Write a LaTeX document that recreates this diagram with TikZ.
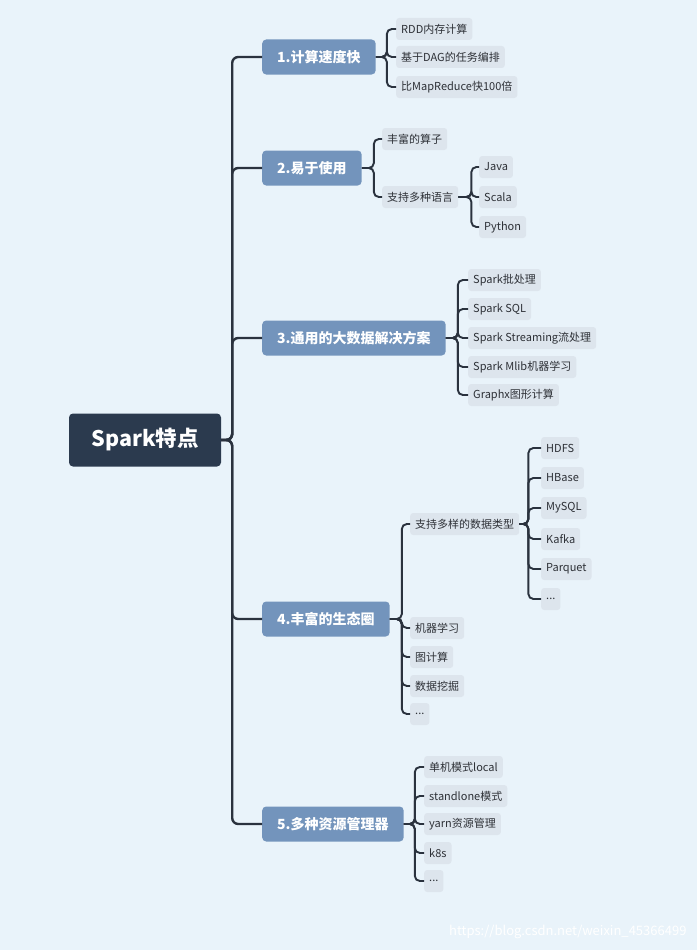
\documentclass[tikz,border=0pt]{standalone}
\usepackage{fontspec}
\setmainfont{Noto Sans CJK SC}
\usepackage{tikz}
\usetikzlibrary{positioning}
\definecolor{mybg}{RGB}{233,243,250}
\definecolor{myroot}{RGB}{43,58,78}
\definecolor{mybranch}{RGB}{115,148,188}
\definecolor{myleaf}{RGB}{221,229,237}
\definecolor{myline}{RGB}{42,50,62}
\definecolor{mytext}{RGB}{45,48,54}
\tikzset{
  rootnode/.style={rectangle, fill=myroot, text=white,
    minimum width=152pt, minimum height=53pt,
    font=\fontsize{21.5}{25}\selectfont\bfseries, rounded corners=4pt},
  branch/.style={rectangle, fill=mybranch, text=white, anchor=west,
    inner xsep=15pt, minimum height=35pt,
    font=\fontsize{14}{17}\selectfont\bfseries, rounded corners=4pt},
  leaf/.style={rectangle, fill=myleaf, text=mytext, anchor=west,
    inner xsep=5pt, minimum height=22pt,
    font=\fontsize{11}{13}\selectfont, rounded corners=3pt},
  link/.style={line width=2.4pt, color=myline, rounded corners=6pt},
  sublink/.style={line width=1.9pt, color=myline, rounded corners=5pt}
}
\begin{document}
\begin{tikzpicture}[x=1pt, y=-1pt]
  % Background
  \fill[mybg] (0,0) rectangle (697,950);

  % Root
  \node[rootnode] (root) at (145,440) {Spark特点};

  % Branches
  \node[branch] (b1) at (262,57) {1.计算速度快};
  \node[branch] (b2) at (262,168) {2.易于使用};
  \node[branch] (b3) at (262,338) {3.通用的大数据解决方案};
  \node[branch] (b4) at (262,619) {4.丰富的生态圈};
  \node[branch] (b5) at (262,824) {5.多种资源管理器};
  \foreach \b in {b1,b2,b3,b4,b5}
    \draw[link] (root.east) -- ++(11,0) |- (\b.west);

  % 1. speed
  \node[leaf] (l11) at (396,29) {RDD内存计算};
  \node[leaf] (l12) at (396,57) {基于DAG的任务编排};
  \node[leaf] (l13) at (396,87) {比MapReduce快100倍};
  \foreach \l in {l11,l12,l13}
    \draw[sublink] (b1.east) -- ++(11,0) |- (\l.west);

  % 2. easy to use
  \node[leaf] (l21) at (382,139) {丰富的算子};
  \node[leaf] (l22) at (382,197) {支持多种语言};
  \foreach \l in {l21,l22}
    \draw[sublink] (b2.east) -- ++(12,0) |- (\l.west);
  \node[leaf] (java) at (479,167) {Java};
  \node[leaf] (scala) at (479,197) {Scala};
  \node[leaf] (python) at (479,227) {Python};
  \foreach \l in {java,scala,python}
    \draw[sublink] (l22.east) -- ++(13,0) |- (\l.west);

  % 3. general solution
  \node[leaf] (l31) at (468,280) {Spark批处理};
  \node[leaf] (l32) at (468,309) {Spark SQL};
  \node[leaf] (l33) at (468,338) {Spark Streaming流处理};
  \node[leaf] (l34) at (468,367) {Spark Mlib机器学习};
  \node[leaf] (l35) at (468,395) {Graphx图形计算};
  \foreach \l in {l31,l32,l33,l34,l35}
    \draw[sublink] (b3.east) -- ++(12,0) |- (\l.west);

  % 4. ecosystem
  \node[leaf] (l41) at (410,524) {支持多样的数据类型};
  \node[leaf] (l42) at (410,628) {机器学习};
  \node[leaf] (l43) at (410,657) {图计算};
  \node[leaf] (l44) at (410,686) {数据挖掘};
  \node[leaf] (l45) at (410,714) {...};
  \foreach \l in {l41,l42,l43,l44,l45}
    \draw[sublink] (b4.east) -- ++(12,0) |- (\l.west);
  \node[leaf] (hdfs) at (541,448) {HDFS};
  \node[leaf] (hbase) at (541,478) {HBase};
  \node[leaf] (mysql) at (541,508) {MySQL};
  \node[leaf] (kafka) at (541,539) {Kafka};
  \node[leaf] (parquet) at (541,569) {Parquet};
  \node[leaf] (more) at (541,599) {...};
  \foreach \l in {hdfs,hbase,mysql,kafka,parquet,more}
    \draw[sublink] (l41.east) -- ++(9,0) |- (\l.west);

  % 5. resource managers
  \node[leaf] (l51) at (424,767) {单机模式local};
  \node[leaf] (l52) at (424,796) {standlone模式};
  \node[leaf] (l53) at (424,824) {yarn资源管理};
  \node[leaf] (l54) at (424,853) {k8s};
  \node[leaf] (l55) at (424,881) {...};
  \foreach \l in {l51,l52,l53,l54,l55}
    \draw[sublink] (b5.east) -- ++(11,0) |- (\l.west);

  % Watermark
  \node[anchor=east, text=white, font=\fontsize{13}{15}\selectfont] (wm) at (690,932) {https://blog.csdn.net/weixin\_45366499};
\end{tikzpicture}
\end{document}
